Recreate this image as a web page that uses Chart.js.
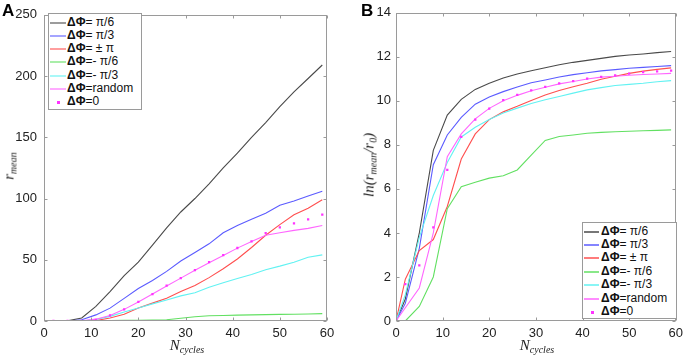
<!DOCTYPE html>
<html>
<head>
<meta charset="utf-8">
<script src="https://cdn.jsdelivr.net/npm/chart.js@4.4.1/dist/chart.umd.min.js"></script>
<style>
  html,body{margin:0;padding:0;background:#fff;}
  #wrap{position:relative;width:688px;height:358px;overflow:hidden;font-family:"Liberation Sans",Arial,sans-serif;}
  .cv{position:absolute;top:0;width:344px;height:358px;}
  .panel{position:absolute;font-weight:bold;font-size:17px;color:#000;line-height:1;}
  .ttl{position:absolute;font-family:"Liberation Serif","Times New Roman",serif;font-style:italic;font-size:15px;color:#222;white-space:nowrap;line-height:1;}
  .ttl sub{font-size:10px;vertical-align:-3px;}
  .rot{transform:translate(-50%,-50%) rotate(-90deg);}
  .hc{transform:translate(-50%,-50%);}
  .legend{position:absolute;border:1px solid #9a9a9a;background:#fff;box-sizing:border-box;font-size:12px;color:#111;}
  .row{position:absolute;left:0;height:13px;white-space:nowrap;}
  .sample{position:absolute;}
  .lbl{position:absolute;top:0;line-height:13px;}
  .lbl b{font-weight:bold;}
</style>
</head>
<body>
<div id="wrap">
  <canvas id="cA" class="cv" style="left:0" width="344" height="358"></canvas>
  <canvas id="cB" class="cv" style="left:344px" width="344" height="358"></canvas>
  <div class="panel" style="left:2px;top:2px;">A</div>
  <div class="panel" style="left:361px;top:2px;">B</div>
  <div class="ttl rot" style="left:10px;top:166px;">r<sub>mean</sub></div>
  <div class="ttl hc" style="left:187px;top:346px;">N<sub>cycles</sub></div>
  <div class="ttl rot" style="left:370px;top:165px;">ln(r<sub>mean</sub>/r<sub>0</sub>)</div>
  <div class="ttl hc" style="left:537px;top:346px;">N<sub>cycles</sub></div>
  <div id="legA" class="legend" style="left:48px;top:13px;width:94px;height:97px;"></div>
  <div id="legB" class="legend" style="left:582px;top:222px;width:95px;height:97px;"></div>
</div>
<script>
// ---- data ----
const cycles = [0,2,5,8,11,14,17,20,23,26,29,32,35,38,41,44,47,50,53,56,59];
const seriesLabels = ["ΔΦ= π/6","ΔΦ= π/3","ΔΦ= ± π","ΔΦ=- π/6","ΔΦ=- π/3","ΔΦ=random","ΔΦ=0"];
const xTicks = [0,10,20,30,40,50,60];
const yTicksA = [0,50,100,150,200,250];
const yTicksB = [0,2,4,6,8,10,12,14];

// Panel A: r_mean
const aPi6   = [0,0,0.1,2.5,12,24,37,48,62,76,89,100,112,125,137,150,162,175,187,198,209];
const aPi3   = [0,0,0,1,5,10.5,18.5,26.5,33,40.5,49,56,63,72,78,83,88,94.5,98,102,106];
const aPm    = [0,0,0,0,0.3,2.5,5.5,10.6,14.6,18.6,24,29,35.4,42.6,50.6,60,70,78.7,86.7,92,99];
const aMPi6  = [0,0,0,0,0.1,0.4,0.5,0.6,0.8,1,2.2,3.5,4.3,4.5,4.8,5,5.2,5.4,5.5,5.7,6];
const aMPi3  = [0,0,0,0,1.2,3.8,7.3,10.6,14,17.2,20.5,23,27.5,31.2,34.7,38,41.9,44.8,48,52,54];
const aRand  = [0,0,0,0.2,1.5,4.5,9.5,15.5,22,28.5,35,41.5,47.5,53.5,59.5,65,70,72,74,75.6,78];
const aZero  = [0,0,0,0,1,4.5,9.5,15.6,22,28.8,35,41.6,48,53.8,59.6,65,71.7,76.5,79.7,83,86.8];

// Panel B: ln(r_mean/r_0)
const bPi6   = [0,1.0,4.0,7.75,9.35,10.07,10.52,10.8,11.04,11.22,11.37,11.5,11.64,11.75,11.84,11.93,12.02,12.08,12.13,12.19,12.24];
const bPi3   = [0,0.8,3.3,7.1,8.45,9.25,9.85,10.18,10.42,10.63,10.82,10.95,11.08,11.19,11.28,11.36,11.42,11.48,11.52,11.56,11.6];
const bPm    = [0,1.9,3.2,3.7,5.2,7.36,8.5,9.15,9.5,9.75,10.02,10.27,10.47,10.64,10.8,10.98,11.12,11.25,11.35,11.43,11.5];
const bMPi6  = [0,0,0.66,2.0,5.1,6.1,6.3,6.49,6.6,6.86,7.53,8.2,8.38,8.45,8.53,8.57,8.6,8.62,8.64,8.66,8.68];
const bMPi3  = [0,1.2,3.8,5.7,7.2,8.36,8.8,9.15,9.45,9.67,9.88,10.05,10.2,10.35,10.5,10.6,10.7,10.75,10.8,10.87,10.92];
const bRand  = [0,0.6,1.5,4.0,7.46,8.5,9.18,9.66,10.0,10.25,10.46,10.62,10.77,10.88,10.99,11.08,11.12,11.16,11.2,11.22,11.25];
const bZero  = [0,1.68,2.53,4.25,6.86,8.36,9.15,9.65,10.03,10.27,10.48,10.64,10.79,10.9,11.01,11.09,11.16,11.24,11.31,11.34,11.37];

const colors = ["#4a4a4a","#5b5bff","#ff4f4f","#62e062","#62f2f2","#ff66ff","#ff33ff"];

function pts(vals){ return cycles.map((c,i)=>({x:c,y:vals[i]})); }

function makeDatasets(arrs){
  return arrs.map((a,i)=>{
    const isDots = i===6;
    return {
      label: seriesLabels[i],
      data: pts(a),
      borderColor: colors[i],
      backgroundColor: colors[i],
      borderWidth: isDots?0:1.1,
      showLine: !isDots,
      pointRadius: isDots?1.6:0,
      pointStyle: 'rect',
      tension: 0,
      order: 7-i
    };
  });
}

const boxTicks = {
  id:'boxTicks',
  afterDatasetsDraw(chart){
    const {ctx, chartArea:a, scales:{x,y}} = chart;
    ctx.save();
    ctx.strokeStyle = '#9a9a9a';
    ctx.lineWidth = 1;
    const L = Math.round(a.left)+0.5, R = Math.round(a.right)-0.5, T = Math.round(a.top)+0.5, B = Math.round(a.bottom)-0.5;
    ctx.strokeRect(L, T, R-L, B-T);
    ctx.beginPath();
    x.ticks.forEach(t=>{
      const p = Math.round(x.getPixelForValue(t.value))+0.5;
      ctx.moveTo(p,B); ctx.lineTo(p,B-3);
      ctx.moveTo(p,T); ctx.lineTo(p,T+3);
    });
    y.ticks.forEach(t=>{
      const p = Math.round(y.getPixelForValue(t.value))+0.5;
      ctx.moveTo(L,p); ctx.lineTo(L+3,p);
      ctx.moveTo(R,p); ctx.lineTo(R-3,p);
    });
    ctx.stroke();
    ctx.restore();
  }
};

function makeChart(id, arrs, yTicks, yMax, yWidth, padRight, yPad){
  return new Chart(document.getElementById(id), {
    type:'scatter',
    data:{ datasets: makeDatasets(arrs) },
    options:{
      responsive:false, animation:false, devicePixelRatio:1,
      layout:{ padding:{ left:0, right:padRight, top:9, bottom:0 } },
      plugins:{ legend:{display:false}, tooltip:{enabled:false} },
      scales:{
        x:{
          type:'linear', min:0, max:60,
          afterBuildTicks(s){ s.ticks = xTicks.map(v=>({value:v})); },
          afterFit(s){ s.height = 37; },
          grid:{ display:false, drawTicks:false },
          border:{ display:false },
          ticks:{ padding:5, maxRotation:0, autoSkip:false, color:'#222', font:{family:'"Liberation Sans", Arial, sans-serif', size:13} }
        },
        y:{
          type:'linear', min:0, max:yMax,
          afterBuildTicks(s){ s.ticks = yTicks.map(v=>({value:v})); },
          afterFit(s){ s.width = yWidth; },
          grid:{ display:false, drawTicks:false },
          border:{ display:false },
          ticks:{ padding:yPad, autoSkip:false, color:'#222', font:{family:'"Liberation Sans", Arial, sans-serif', size:13} }
        }
      }
    },
    plugins:[boxTicks]
  });
}

makeChart('cA', [aPi6,aPi3,aPm,aMPi6,aMPi3,aRand,aZero], yTicksA, 250, 44, 17, 7);
makeChart('cB', [bPi6,bPi3,bPm,bMPi6,bMPi3,bRand,bZero], yTicksB, 14, 52, 9, 5);

function buildLegend(id, lw, op, sampleLeft, sampleW, textLeft, rowTop, rowStep){
  const el = document.getElementById(id);
  seriesLabels.forEach((lab,i)=>{
    const row = document.createElement('div');
    row.className='row';
    row.style.top = Math.round(rowTop + i*rowStep) + 'px';
    row.style.width='100%';
    const s = document.createElement('div');
    s.className='sample';
    if(i===6){
      s.style.left = (sampleLeft + Math.round(sampleW/2) - 1)+'px';
      s.style.top = '6px';
      s.style.width='3px'; s.style.height='3px';
      s.style.background = colors[i];
    } else {
      s.style.left = sampleLeft+'px';
      s.style.top = '6px';
      s.style.width = sampleW+'px';
      s.style.height = lw+'px';
      s.style.background = colors[i];
      s.style.opacity = op;
    }
    row.appendChild(s);
    const t = document.createElement('div');
    t.className='lbl';
    t.style.left = textLeft+'px';
    t.innerHTML = '<b>' + lab.slice(0,2) + '</b>' + lab.slice(2);
    row.appendChild(t);
    el.appendChild(row);
  });
}
buildLegend('legA', 2, 0.55, 1, 16, 18, 1.5, 13.3);
buildLegend('legB', 2, 0.75, 1, 15, 18, 1.5, 13.4);
</script>
</body>
</html>
